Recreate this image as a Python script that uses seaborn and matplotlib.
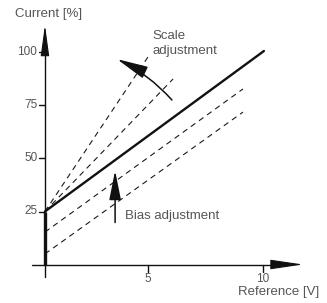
import numpy as np
import pandas as pd
import matplotlib
matplotlib.use('Agg')
import matplotlib.pyplot as plt
import seaborn as sns

# transfer characteristic, reference [V] vs current [%]
axis_x = 0.52
main_x = [axis_x, 10.04]
main_y = [25, 100.7]
bias_lines = {
    'bias1': ([axis_x, 9.13], [15.3, 82.8]),
    'bias2': ([axis_x, 9.13], [5.0, 71.9]),
}
scale_lines = {
    'scale1': ([axis_x, 5.0], [25, 97.9]),
    'scale2': ([axis_x, 6.09], [25, 87.5]),
}
x_ticks = [5, 10]
y_ticks = [25, 50, 75, 100]

sns.set_theme(style='white')
plt.rcParams['font.family'] = ['Liberation Sans', 'DejaVu Sans']
txt_c = '#555555'

fig = plt.figure(figsize=(3.27, 3.03), dpi=100)
ax = fig.add_axes([0, 0, 1, 1])
# pixel mapping: px = 33 + 23*x, py = 264.5 - 2.12*y
ax.set_xlim(-33 / 23, (327 - 33) / 23)
ax.set_ylim((264.5 - 303) / 2.12, 264.5 / 2.12)
ax.patch.set_alpha(0)

# dashed lines
for key, (xs, ys) in {**bias_lines, **scale_lines}.items():
    df = pd.DataFrame({'x': xs, 'y': ys})
    sns.lineplot(data=df, x='x', y='y', ax=ax, color='k', lw=0.8,
                 dashes=False, linestyle=(0, (5, 4)))

# main characteristic
df = pd.DataFrame({'x': main_x, 'y': main_y})
sns.lineplot(data=df, x='x', y='y', ax=ax, color='#111111', lw=1.7)
ax.plot([axis_x, axis_x], [0, 25], color='#111111', lw=2.4, solid_capstyle='butt')

# axes as arrows
ax.plot([axis_x, axis_x], [-5.9, 104], color='#111111', lw=1.0)
ax.annotate('', xy=(axis_x, 113), xytext=(axis_x, 103.5),
            arrowprops=dict(arrowstyle='-|>,head_length=1.6,head_width=0.22',
                            color='#111111', lw=0.8, shrinkA=0, shrinkB=0,
                            mutation_scale=12))
ax.plot([-0.04, 11.0], [0, 0], color='#111111', lw=1.0)
ax.annotate('', xy=(11.74, 0), xytext=(10.8, 0),
            arrowprops=dict(arrowstyle='-|>,head_length=1.7,head_width=0.25',
                            color='#111111', lw=0.8, shrinkA=0, shrinkB=0,
                            mutation_scale=12))

# ticks
for t in y_ticks:
    ax.plot([axis_x - 0.27, axis_x], [t, t], color='#111111', lw=1.0)
    ax.text(axis_x - 0.33, t, str(t), ha='right', va='center',
            fontsize=8.5, color=txt_c)
for t in x_ticks:
    ax.plot([t, t], [0, -3.4], color='#111111', lw=1.0)
    ax.text(t, -4.2, str(t), ha='center', va='top', fontsize=8.5, color=txt_c)

# labels
ax.text(-0.78, 118, 'Current [%]', ha='left', va='center', fontsize=9.5, color=txt_c)
ax.text(12.43, -13, 'Reference [V]', ha='right', va='center', fontsize=9.5, color=txt_c)
ax.text(5.2, 104.2, 'Scale\nadjustment', ha='left', va='center', fontsize=9.5,
        color=txt_c, linespacing=1.35)
ax.text(4.0, 23, 'Bias adjustment', ha='left', va='center', fontsize=9.5, color=txt_c)

# adjustment arrows
ax.annotate('', xy=(3.65, 96.9), xytext=(6.04, 77.6),
            arrowprops=dict(arrowstyle='-|>,head_length=1.6,head_width=0.32',
                            color='#111111', lw=1.1, shrinkA=0, shrinkB=0,
                            mutation_scale=12,
                            connectionstyle='arc3,rad=0.1'))
ax.annotate('', xy=(3.57, 44.3), xytext=(3.57, 19.8),
            arrowprops=dict(arrowstyle='-|>,head_length=1.5,head_width=0.3',
                            color='#111111', lw=1.1, shrinkA=0, shrinkB=0,
                            mutation_scale=12))

ax.set_axis_off()
fig.savefig('out.png', dpi=100, facecolor='white')
